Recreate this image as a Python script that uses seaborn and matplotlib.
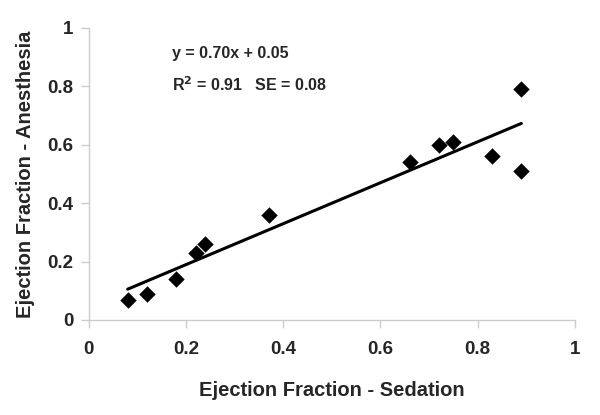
import numpy as np
import pandas as pd
import seaborn as sns
from matplotlib import pyplot as plt

# values
sedation = [0.08, 0.12, 0.18, 0.22, 0.24, 0.37, 0.66, 0.72, 0.75, 0.83, 0.89, 0.89]
anesthesia = [0.07, 0.09, 0.14, 0.23, 0.26, 0.36, 0.54, 0.60, 0.61, 0.56, 0.51, 0.79]
ticks = [0, 0.2, 0.4, 0.6, 0.8, 1]
tick_labels = ['0', '0.2', '0.4', '0.6', '0.8', '1']

df = pd.DataFrame({'sed': sedation, 'anes': anesthesia})

sns.set_style('ticks')
plt.rcParams['font.family'] = ['Liberation Sans', 'DejaVu Sans']
plt.rcParams['font.weight'] = 'bold'

fig = plt.figure(figsize=(6, 4.15), dpi=100)
ax = fig.add_axes([0.148, 0.229, 0.81, 0.704])

sns.regplot(data=df, x='sed', y='anes', ax=ax, ci=None, marker='D',
            color='black', scatter_kws={'s': 70, 'linewidths': 0, 'alpha': 1},
            line_kws={'linewidth': 2.2})

ax.set_xlim(0, 1)
ax.set_ylim(0, 1)
ax.set_xticks(ticks)
ax.set_xticklabels(tick_labels)
ax.set_yticks(ticks)
ax.set_yticklabels(tick_labels)
for lab in ax.get_xticklabels() + ax.get_yticklabels():
    lab.set_fontweight('bold')
ax.tick_params(axis='both', labelsize=13.5, color='#cccccc', length=6, width=1)
ax.tick_params(axis='x', pad=9)
ax.tick_params(axis='y', pad=5)

sns.despine(ax=ax)
for side in ['left', 'bottom']:
    ax.spines[side].set_color('#cccccc')
    ax.spines[side].set_linewidth(1)

ax.set_xlabel('Ejection Fraction - Sedation', fontsize=14.5, fontweight='bold', labelpad=17)
ax.set_ylabel('Ejection Fraction - Anesthesia', fontsize=14.5, fontweight='bold', labelpad=9)

ax.text(0.172, 0.911, 'y = 0.70x + 0.05', fontsize=11.5, fontweight='bold', va='center')
ax.text(0.172, 0.805, 'R$^\\mathbf{2}$ = 0.91   SE = 0.08', fontsize=11.5, fontweight='bold', va='center')

plt.savefig('out.png', dpi=100)
